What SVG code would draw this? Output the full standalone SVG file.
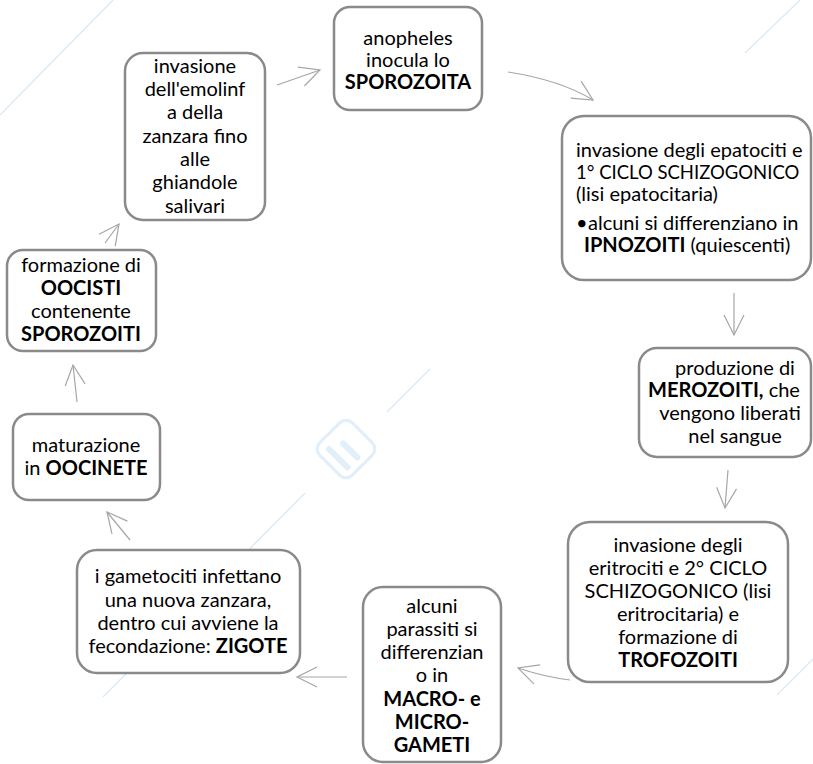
<svg xmlns="http://www.w3.org/2000/svg" width="813" height="764" viewBox="0 0 813 764">
<defs>
<style>
.box{fill:#ffffff;stroke:#8a8a8a;stroke-width:2.5}
.t{font-family:Lato,"Liberation Sans",sans-serif;font-size:20px;fill:#000000;text-anchor:middle}
.l{text-anchor:start}
.b{font-weight:bold}
.con{fill:none;stroke:#a6a6a6;stroke-width:1.2}
.wm{fill:none;stroke:#d9e9f7;stroke-width:1.3}
</style>
<marker id="arr" markerUnits="userSpaceOnUse" markerWidth="30" markerHeight="30" refX="20" refY="10" orient="auto" overflow="visible">
<path d="M0,0 L20,10 L0,20" fill="none" stroke="#a6a6a6" stroke-width="1.2"/>
</marker>
</defs>
<rect width="813" height="764" fill="#ffffff"/>
<g id="watermark">
<line class="wm" x1="0" y1="115" x2="113" y2="0"/>
<line class="wm" x1="387" y1="412" x2="430" y2="369"/>
<line class="wm" x1="745" y1="53" x2="800" y2="0"/>
<line class="wm" x1="103" y1="697" x2="305" y2="493"/>
<line class="wm" x1="777" y1="695" x2="813" y2="659"/>
<g transform="translate(346,449) rotate(-45)" opacity="0.6">
<rect x="-23" y="-23" width="46" height="46" rx="9" fill="none" stroke="#cfe3f5" stroke-width="3"/>
<line x1="-12" y1="-12" x2="-12" y2="14" stroke="#cfe3f5" stroke-width="6" stroke-linecap="round"/>
<line x1="2" y1="-6" x2="2" y2="14" stroke="#cfe3f5" stroke-width="6" stroke-linecap="round"/>
</g>
</g>
<g id="connectors">
<path class="con" marker-end="url(#arr)" d="M277,85 L320,70"/>
<path class="con" marker-end="url(#arr)" d="M508,72 Q560,80 593,100"/>
<path class="con" marker-end="url(#arr)" d="M734,293 L734,335"/>
<path class="con" marker-end="url(#arr)" d="M728,470 L725,508"/>
<path class="con" marker-end="url(#arr)" d="M570,680 Q545,677 518,668"/>
<path class="con" marker-end="url(#arr)" d="M347,677 L297,677"/>
<path class="con" marker-end="url(#arr)" d="M130,540 L107,512"/>
<path class="con" marker-end="url(#arr)" d="M77,402 L73,365"/>
<path class="con" marker-end="url(#arr)" d="M105,243 L119,224"/>
</g>
<g id="n-sporozoita">
<rect class="box" x="334" y="7" width="148" height="103" rx="16"/>
<text class="t" x="408" y="45">anopheles</text>
<text class="t" x="408" y="67">inocula lo</text>
<text class="t b" x="408" y="89">SPOROZOITA</text>
</g>
<g id="n-epatociti">
<rect class="box" x="562" y="116" width="249" height="164" rx="22"/>
<text class="t l" x="576" y="157">invasione degli epatociti e</text>
<text class="t l" x="576" y="179" style="font-size:18.5px">1° CICLO SCHIZOGONICO</text>
<text class="t l" x="576" y="201">(lisi epatocitaria)</text>
<text class="t l" x="576" y="230">•</text>
<text class="t l" x="588" y="230">alcuni si differenziano in</text>
<text class="t l" x="584" y="252"><tspan class="b">IPNOZOITI</tspan> (quiescenti)</text>
</g>
<g id="n-merozoiti">
<rect class="box" x="639" y="348" width="172" height="109" rx="18"/>
<text class="t" x="735" y="375">produzione di</text>
<text class="t" x="724" y="397"><tspan class="b">MEROZOITI,</tspan> che</text>
<text class="t" x="730" y="420">vengono liberati</text>
<text class="t" x="735" y="443">nel sangue</text>
</g>
<g id="n-trofozoiti">
<rect class="box" x="568" y="522" width="220" height="160" rx="22"/>
<text class="t" x="678" y="552">invasione degli</text>
<text class="t" x="678" y="575">eritrociti e 2° CICLO</text>
<text class="t" x="678" y="598">SCHIZOGONICO (lisi</text>
<text class="t" x="678" y="621">eritrocitaria) e</text>
<text class="t" x="678" y="644">formazione di</text>
<text class="t b" x="678" y="667">TROFOZOITI</text>
</g>
<g id="n-gameti">
<rect class="box" x="363" y="587" width="138" height="175" rx="20"/>
<text class="t" x="432" y="613">alcuni</text>
<text class="t" x="432" y="636">parassiti si</text>
<text class="t" x="432" y="659">differenzian</text>
<text class="t" x="432" y="682">o in</text>
<text class="t b" x="432" y="706">MACRO- e</text>
<text class="t b" x="432" y="729">MICRO-</text>
<text class="t b" x="432" y="752">GAMETI</text>
</g>
<g id="n-zigote">
<rect class="box" x="77" y="550" width="223" height="123" rx="20"/>
<text class="t" x="188" y="583">i gametociti infettano</text>
<text class="t" x="188" y="607">una nuova zanzara,</text>
<text class="t" x="188" y="630">dentro cui avviene la</text>
<text class="t" x="188" y="653">fecondazione: <tspan class="b">ZIGOTE</tspan></text>
</g>
<g id="n-oocinete">
<rect class="box" x="13" y="414" width="147" height="86" rx="16"/>
<text class="t" x="86" y="452">maturazione</text>
<text class="t" x="86" y="475">in <tspan class="b">OOCINETE</tspan></text>
</g>
<g id="n-oocisti">
<rect class="box" x="7" y="250" width="149" height="101" rx="16"/>
<text class="t" x="81" y="272">formazione di</text>
<text class="t b" x="81" y="295">OOCISTI</text>
<text class="t" x="81" y="318">contenente</text>
<text class="t b" x="81" y="341">SPOROZOITI</text>
</g>
<g id="n-emolinfa">
<rect class="box" x="125" y="53" width="140" height="167" rx="18"/>
<text class="t" x="195" y="73">invasione</text>
<text class="t" x="195" y="96">dell'emolinf</text>
<text class="t" x="195" y="119">a della</text>
<text class="t" x="195" y="143">zanzara fino</text>
<text class="t" x="195" y="166">alle</text>
<text class="t" x="195" y="189">ghiandole</text>
<text class="t" x="195" y="213">salivari</text>
</g>
</svg>
